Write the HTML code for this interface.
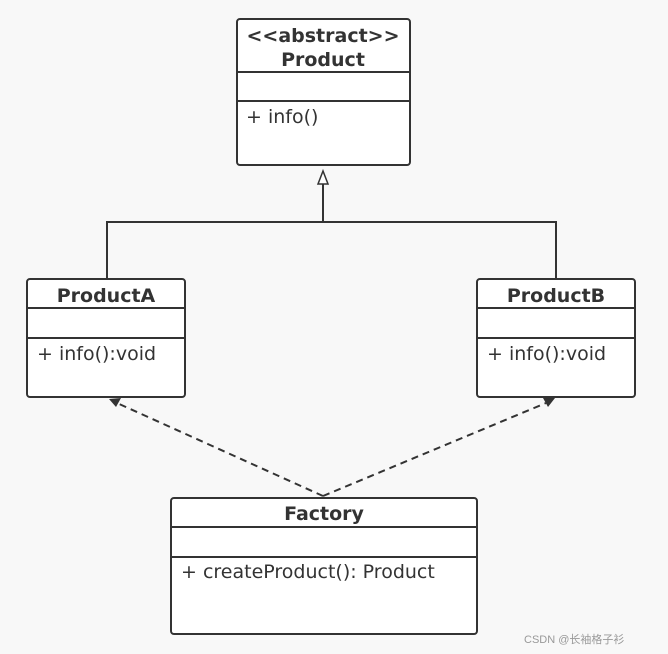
<!DOCTYPE html>
<html><head><meta charset="utf-8"><style>
body{margin:0;width:668px;height:654px;background:#f8f8f8;overflow:hidden;font-family:"DejaVu Sans","Liberation Sans",sans-serif;}
svg{position:absolute;left:0;top:0}
</style></head><body>
<svg width="668" height="654" xmlns="http://www.w3.org/2000/svg" font-family="'DejaVu Sans','Liberation Sans',sans-serif">
<g stroke="#333" stroke-width="2" fill="#fff">
<rect x="237" y="19" width="173" height="146" rx="3"/>
<rect x="27" y="279" width="158" height="118" rx="3"/>
<rect x="477" y="279" width="158" height="118" rx="3"/>
<rect x="171" y="498" width="306" height="136" rx="3"/>
</g>
<g stroke="#333" stroke-width="2">
<line x1="237" y1="72" x2="410" y2="72"/><line x1="237" y1="101" x2="410" y2="101"/>
<line x1="27" y1="308" x2="185" y2="308"/><line x1="27" y1="338" x2="185" y2="338"/>
<line x1="477" y1="308" x2="635" y2="308"/><line x1="477" y1="338" x2="635" y2="338"/>
<line x1="171" y1="527" x2="477" y2="527"/><line x1="171" y1="557" x2="477" y2="557"/>
<line x1="323" y1="222" x2="323" y2="184"/>
<line x1="106" y1="222" x2="557" y2="222"/>
<line x1="107" y1="222" x2="107" y2="279"/>
<line x1="556" y1="222" x2="556" y2="279"/>
<line x1="323" y1="496" x2="117" y2="403" stroke-dasharray="7,5"/>
<line x1="323" y1="496" x2="546" y2="403" stroke-dasharray="7,5"/>
</g>
<polygon points="323,171 318,184 328,184" fill="#fff" stroke="#333" stroke-width="1.5"/>
<polygon points="109,399 121,398 116,407" fill="#333"/>
<polygon points="555,398 543,398 548,407" fill="#333"/>
<g fill="#333" font-size="19">
<text x="323" y="42" text-anchor="middle" font-weight="bold">&lt;&lt;abstract&gt;&gt;</text>
<text x="323" y="66" text-anchor="middle" font-weight="bold">Product</text>
<text x="246" y="123">+ info()</text>
<text x="106" y="302" text-anchor="middle" font-weight="bold">ProductA</text>
<text x="37" y="360">+ info():void</text>
<text x="556" y="302" text-anchor="middle" font-weight="bold">ProductB</text>
<text x="487" y="360">+ info():void</text>
<text x="324" y="520" text-anchor="middle" font-weight="bold">Factory</text>
<text x="181" y="578">+ createProduct():  Product</text>
</g>
<text x="524" y="643" font-size="11" fill="#999" font-family="'Liberation Sans','Noto Sans CJK SC',sans-serif">CSDN @长袖格子衫</text>
</svg>
</body></html>
